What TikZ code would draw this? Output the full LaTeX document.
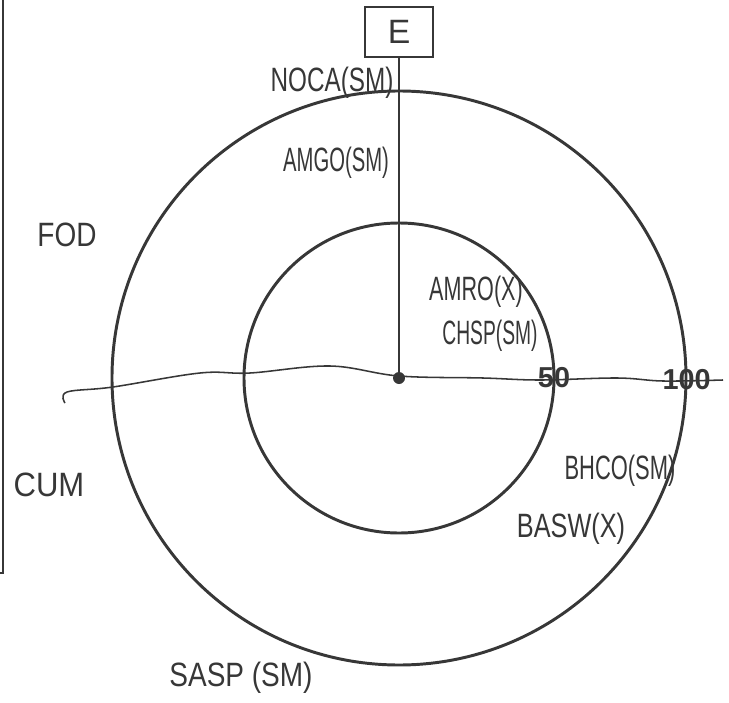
\documentclass[tikz,border=0pt]{standalone}
\usepackage{fontspec}
\usepackage{xcolor}
\usepackage{tikz}
\newfontfamily\handfont{Liberation Sans}
\definecolor{ink}{RGB}{55,55,55}

\begin{document}
\begin{tikzpicture}[
    hand/.style={font=\handfont\fontsize{24}{26}\selectfont, text=ink, inner sep=0pt, transform shape},
    scalelabel/.style={font=\handfont\bfseries\fontsize{20.5}{22}\selectfont, text=ink, inner sep=0pt},
    ring/.style={draw=ink, line width=2.1pt}]

\useasboundingbox (-9.975, -8.1) rectangle (8.25, 9.45);

% page edge on the left
\draw[ink, line width=1.2pt] (-9.9, 9.45) -- (-9.9, -4.875) -- (-9.975, -4.875);

% the two rings
\draw[ring] (0, 0) circle[radius=7.175];
\draw[ring] (0, 0) circle[radius=3.875];

% wavy axis
\draw[ink, line width=1.1pt] plot[smooth, tension=0.6] coordinates {
    (-8.35, -0.625) (-8.3, -0.35) (-7.15, -0.225) (-4.975, 0.125) (-3.725, 0.125)
    (-1.725, 0.3) (0, 0.05) (2.1, 0) (3.525, -0.05) (5.45, 0) (6.6, -0.075) (8.1, -0.05)};

\node[circle, fill=ink, inner sep=0pt, minimum size=0.3cm] (hub) at (0, 0) {};
\node[draw=ink, line width=1.4pt, minimum width=1.7cm, minimum height=1.25cm, hand] (enode) at (0, 8.65) {E};
\draw[ink, line width=1.4pt] (enode) -- (hub);

\node[scalelabel] (l50) at (3.875, 0) {50};
\node[scalelabel] (l100) at (7.19, -0.05) {100};

\node[hand, xscale=0.72] (noca) at (-1.675, 7.375) {NOCA(SM)};
\node[hand, xscale=0.6] (amgo) at (-1.575, 5.375) {AMGO(SM)};
\node[hand, xscale=0.83] (fod) at (-8.3, 3.575) {FOD};
\node[hand, xscale=0.64] (amro) at (1.925, 2.15) {AMRO(X)};
\node[hand, xscale=0.57] (chsp) at (2.275, 1.05) {CHSP(SM)};
\node[hand, xscale=0.65] (bhco) at (5.525, -2.325) {BHCO(SM)};
\node[hand, xscale=0.75] (basw) at (4.3, -3.775) {BASW(X)};
\node[hand, xscale=0.92] (cum) at (-8.75, -2.675) {CUM};
\node[hand, xscale=0.83] (sasp) at (-3.95, -7.5) {SASP (SM)};

\end{tikzpicture}
\end{document}
